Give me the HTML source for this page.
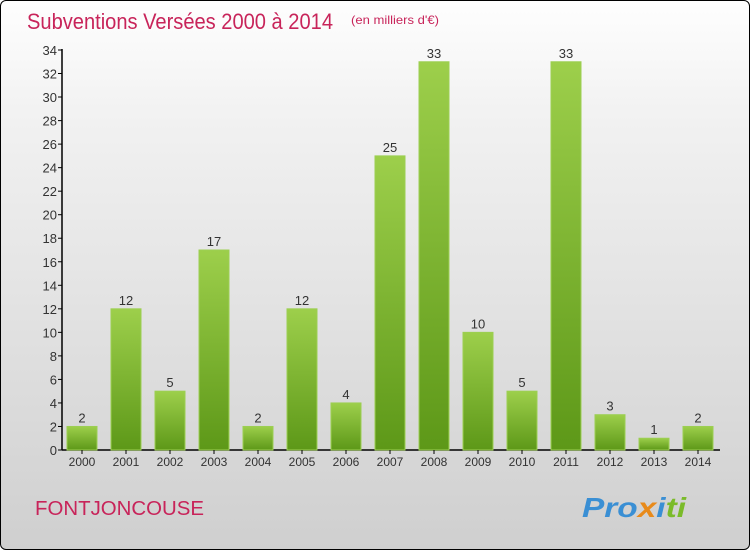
<!DOCTYPE html>
<html><head><meta charset="utf-8"><style>
body{margin:0;width:750px;height:550px;overflow:hidden;font-family:"Liberation Sans",sans-serif}
#wrap{position:absolute;left:0;top:0;width:748px;height:548px;border:1px solid #000;border-radius:6px;background:linear-gradient(#fefefe,#f2f2f2 20%,#d8d8d8 80%,#cfcfcf);overflow:hidden}
</style></head><body>
<div id="wrap">
<svg id="chart" width="750" height="550" style="position:absolute;left:-1px;top:-1px">
<defs><linearGradient id="g" x1="0" y1="0" x2="0" y2="1"><stop offset="0" stop-color="#9dcf4b"/><stop offset="1" stop-color="#5d9818"/></linearGradient></defs>
<text x="27" y="29" font-size="22" fill="#c8245a" textLength="306" lengthAdjust="spacingAndGlyphs">Subventions Versées 2000 à 2014</text>
<text x="351" y="24" font-size="12" fill="#c8245a" textLength="88" lengthAdjust="spacingAndGlyphs">(en milliers d'€)</text>
<text x="35" y="515" font-size="20" fill="#c8245a" textLength="169" lengthAdjust="spacingAndGlyphs">FONTJONCOUSE</text>
<text x="582" y="517" font-size="28" font-weight="bold" font-style="italic" textLength="104" lengthAdjust="spacingAndGlyphs"><tspan fill="#3a8fd4">Pro</tspan><tspan fill="#e88a1a">x</tspan><tspan fill="#3a8fd4">i</tspan><tspan fill="#7bbb2a">ti</tspan></text>
<g id="plot"></g>
</svg></div>
<script>
const years=["2000","2001","2002","2003","2004","2005","2006","2007","2008","2009","2010","2011","2012","2013","2014"];
const values=[2,12,5,17,2,12,4,25,33,10,5,33,3,1,2];
const yTicks=[0,2,4,6,8,10,12,14,16,18,20,22,24,26,28,30,32,34];
const NS="http://www.w3.org/2000/svg";
const g=document.getElementById('plot');
const y=v=>450-v*400/34;
const x=i=>82+i*44;
function el(t,a,txt){const e=document.createElementNS(NS,t);for(const k in a)e.setAttribute(k,a[k]);if(txt!==undefined)e.textContent=txt;g.appendChild(e);return e;}
const ax=el('line',{x1:62,y1:49,x2:62,y2:450,stroke:'#000','stroke-width':1.5});


const bx=el('line',{x1:62,y1:450,x2:720,y2:450,stroke:'#000','stroke-width':1.5});


yTicks.forEach(t=>{
 const l=el('line',{x1:58,y1:y(t),x2:62,y2:y(t),stroke:'#000'});
 
 
 const tx=el('text',{x:57,y:y(t)+5,'font-size':13,fill:'#333','text-anchor':'end'},t);
 
 
});
years.forEach((yr,i)=>{
 const v=values[i];
 const r=el('rect',{x:x(i)-15,y:y(v),width:30,height:450-y(v),fill:'url(#g)',stroke:'#9ccf52','stroke-width':1});
 
 
 const lb=el('text',{x:x(i),y:y(v)-4,'font-size':13,fill:'#333','text-anchor':'middle'},v);
 
 
 const tk=el('line',{x1:x(i),y1:450,x2:x(i),y2:454,stroke:'#000'});
 
 
 const xl=el('text',{x:x(i),y:466,'font-size':12,fill:'#333','text-anchor':'middle'},yr);
 
 
});
</script>
</body></html>
